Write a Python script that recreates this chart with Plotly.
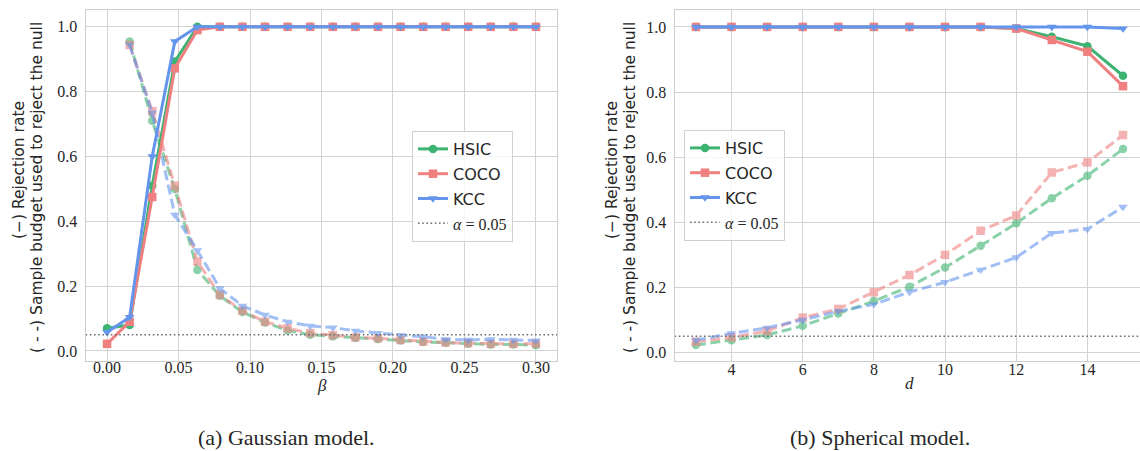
import plotly.graph_objects as go

# ---------------- data ----------------
beta = [0.0, 0.0158, 0.0316, 0.0474, 0.0632, 0.0789, 0.0947, 0.1105, 0.1263, 0.1421,
        0.1579, 0.1737, 0.1895, 0.2053, 0.2211, 0.2368, 0.2526, 0.2684, 0.2842, 0.3]

g_hsic_rej = [0.07, 0.08, 0.51, 0.893, 1.0, 1.0, 1.0, 1.0, 1.0, 1.0,
              1.0, 1.0, 1.0, 1.0, 1.0, 1.0, 1.0, 1.0, 1.0, 1.0]
g_coco_rej = [0.022, 0.09, 0.475, 0.872, 0.99, 1.0, 1.0, 1.0, 1.0, 1.0,
              1.0, 1.0, 1.0, 1.0, 1.0, 1.0, 1.0, 1.0, 1.0, 1.0]
g_kcc_rej = [0.058, 0.104, 0.60, 0.955, 1.0, 1.0, 1.0, 1.0, 1.0, 1.0,
             1.0, 1.0, 1.0, 1.0, 1.0, 1.0, 1.0, 1.0, 1.0, 1.0]

g_hsic_bud = [None, 0.955, 0.71, 0.50, 0.25, 0.17, 0.12, 0.088, 0.063, 0.05,
              0.045, 0.04, 0.037, 0.032, 0.028, 0.025, 0.022, 0.02, 0.02, 0.018]
g_coco_bud = [None, 0.944, 0.74, 0.51, 0.276, 0.173, 0.124, 0.09, 0.07, 0.055,
              0.049, 0.042, 0.039, 0.034, 0.029, 0.026, 0.024, 0.022, 0.022, 0.022]
g_kcc_bud = [None, 0.944, 0.735, 0.42, 0.31, 0.193, 0.139, 0.111, 0.09, 0.077,
             0.072, 0.062, 0.055, 0.049, 0.044, 0.036, 0.034, 0.036, 0.034, 0.032]

dims = [3, 4, 5, 6, 7, 8, 9, 10, 11, 12, 13, 14, 15]

s_hsic_rej = [1.0, 1.0, 1.0, 1.0, 1.0, 1.0, 1.0, 1.0, 1.0, 0.995, 0.97, 0.941, 0.85]
s_coco_rej = [1.0, 1.0, 1.0, 1.0, 1.0, 1.0, 1.0, 1.0, 1.0, 0.995, 0.96, 0.924, 0.818]
s_kcc_rej = [1.0, 1.0, 1.0, 1.0, 1.0, 1.0, 1.0, 1.0, 1.0, 1.0, 1.0, 1.0, 0.995]

s_hsic_bud = [0.023, 0.038, 0.054, 0.082, 0.12, 0.158, 0.202, 0.261, 0.328, 0.397, 0.474, 0.543, 0.625]
s_coco_bud = [0.033, 0.047, 0.066, 0.107, 0.134, 0.185, 0.238, 0.30, 0.374, 0.421, 0.553, 0.584, 0.668]
s_kcc_bud = [0.038, 0.059, 0.076, 0.10, 0.127, 0.148, 0.186, 0.216, 0.254, 0.292, 0.367, 0.379, 0.447]

alpha_level = 0.05

methods = ["HSIC", "COCO", "KCC"]
beta_ticks = [0.0, 0.05, 0.10, 0.15, 0.20, 0.25, 0.30]
dim_ticks = [4, 6, 8, 10, 12, 14]
y_ticks = [0.0, 0.2, 0.4, 0.6, 0.8, 1.0]

# ---------------- style ----------------
W, H = 1140, 451
colors = {"HSIC": "#3cb371", "COCO": "#f08080", "KCC": "#6495ed"}
symbols = {"HSIC": "circle", "COCO": "square", "KCC": "triangle-down"}
SERIF = "Liberation Serif"
SANS = "DejaVu Sans"
GRID = "#d3d3d3"
TXT = "#262626"

x1_range = [-0.015, 0.315]
y1_range = [-0.031, 1.052]
x2_range = [2.4, 15.478]
y2_range = [-0.026, 1.052]

fig = go.Figure()

panels = [
    ("x", "y", "legend", beta, [g_hsic_rej, g_coco_rej, g_kcc_rej],
     [g_hsic_bud, g_coco_bud, g_kcc_bud], x1_range),
    ("x2", "y2", "legend2", dims, [s_hsic_rej, s_coco_rej, s_kcc_rej],
     [s_hsic_bud, s_coco_bud, s_kcc_bud], x2_range),
]

LW, MS = 3.0, 8.5
for pi, (xa, ya, leg, xs, rej, bud, xr) in enumerate(panels):
    for m, vals in zip(methods, bud):
        fig.add_trace(go.Scatter(
            x=xs, y=vals, xaxis=xa, yaxis=ya, mode="lines+markers",
            line=dict(color=colors[m], width=LW, dash="10px,4.5px"),
            marker=dict(symbol=symbols[m], size=MS, color=colors[m]),
            opacity=0.6, showlegend=False, connectgaps=False,
            cliponaxis=False, hoverinfo="skip"))
    for m, vals in zip(methods, rej):
        fig.add_trace(go.Scatter(
            x=xs, y=vals, xaxis=xa, yaxis=ya, mode="lines+markers",
            line=dict(color=colors[m], width=LW),
            marker=dict(symbol=symbols[m], size=MS, color=colors[m]),
            name=m, legend=leg, legendgroup="%s%d" % (m, pi),
            showlegend=True, cliponaxis=False))
    fig.add_trace(go.Scatter(
        x=xr, y=[alpha_level, alpha_level], xaxis=xa, yaxis=ya, mode="lines",
        line=dict(color="#6e6e6e", width=1.6, dash="1.6px,2.6px"),
        name='<span style="font-family:%s"><i>α</i> = 0.05</span>' % SERIF,
        legend=leg, legendgroup="alpha%d" % pi, showlegend=True))

axis_common = dict(showgrid=True, gridcolor=GRID, gridwidth=1.2, zeroline=False,
                   showline=True, linecolor="#cccccc", linewidth=1.2, mirror=True,
                   ticks="", tickfont=dict(family=SERIF, size=16, color=TXT))

legend_common = dict(xanchor="left", yanchor="top", traceorder="grouped", tracegroupgap=1,
                     entrywidth=92, entrywidthmode="pixels",
                     bgcolor="rgba(255,255,255,0.8)", bordercolor="#d0d0d0", borderwidth=1,
                     font=dict(family=SANS, size=16, color=TXT))

ydom = [1 - 361 / H, 1 - 10 / H]
fig.update_layout(
    width=W, height=H, margin=dict(l=0, r=0, t=0, b=0),
    paper_bgcolor="white", plot_bgcolor="white",
    xaxis=dict(domain=[85.6 / W, 557.4 / W], range=x1_range, tickvals=beta_ticks,
               tickformat=".2f", anchor="y", ticklabelstandoff=-8, **axis_common),
    yaxis=dict(domain=ydom, range=y1_range, tickvals=y_ticks, tickformat=".1f",
               anchor="x", ticklabelstandoff=4, **axis_common),
    xaxis2=dict(domain=[674.6 / W, 1.0], range=x2_range, tickvals=dim_ticks,
                anchor="y2", ticklabelstandoff=-6, **axis_common),
    yaxis2=dict(domain=ydom, range=y2_range, tickvals=y_ticks, tickformat=".1f",
                anchor="x2", ticklabelstandoff=4, **axis_common),
    legend=dict(x=412 / W, y=1 - 131 / H, **legend_common),
    legend2=dict(x=684 / W, y=1 - 130 / H, **legend_common),
    showlegend=True,
)

def ann(text, x, y, size, family, angle=0, italic=False):
    if italic:
        text = "<i>%s</i>" % text
    fig.add_annotation(text=text, x=x / W, y=1 - y / H, xref="paper", yref="paper",
                       showarrow=False, textangle=angle, xanchor="center", yanchor="middle",
                       font=dict(family=family, size=size, color=TXT))

# axis titles
ann("β", 321.5, 385, 17, SERIF, italic=True)
ann("d", 909, 383, 17, SERIF, italic=True)
for off in (0, 593):
    ann("(−) Rejection rate", 19 + off, 170, 15.5, SANS, angle=-90)
    ann("( - -) Sample budget used to reject the null", 37 + off, 188, 15.5, SANS, angle=-90)

# captions
ann("(a) Gaussian model.", 286, 437, 22, SERIF)
ann("(b) Spherical model.", 880, 437, 22, SERIF)

fig.write_html("out.html", config={"displayModeBar": False})

# remove default browser page margin so the figure sits at the window origin
with open("out.html", "r", encoding="utf-8") as f:
    html = f.read()
html = html.replace("<head>", "<head><style>html,body{margin:0;padding:0;overflow:hidden;}</style>", 1)
with open("out.html", "w", encoding="utf-8") as f:
    f.write(html)
